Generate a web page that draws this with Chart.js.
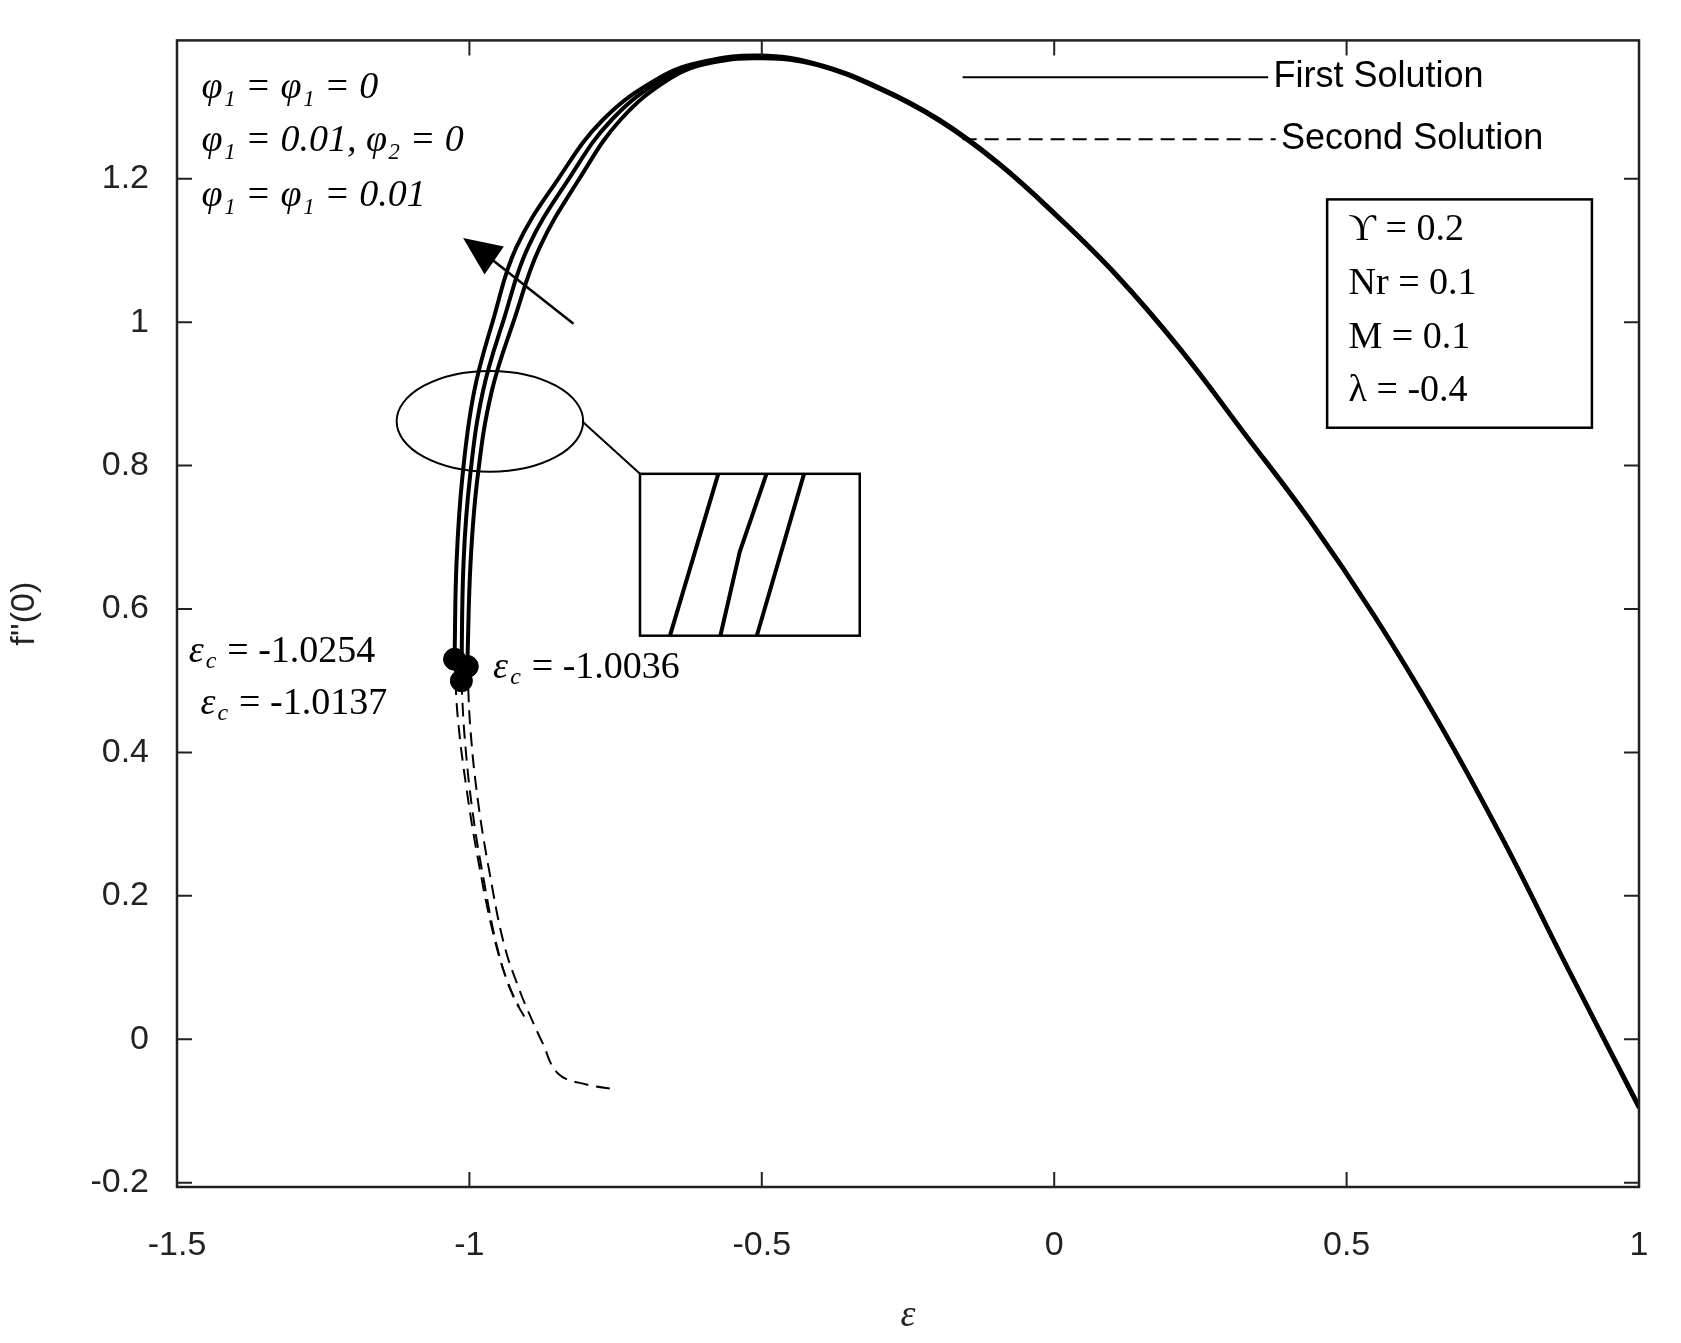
<!DOCTYPE html>
<html><head><meta charset="utf-8">
<script src="https://cdn.jsdelivr.net/npm/chart.js@4.4.1/dist/chart.umd.min.js"></script>
<style>html,body{margin:0;padding:0;background:#fff}#w{width:1681px;height:1343px}</style>
</head><body><div id="w"><canvas id="c"></canvas></div>
<script>
const xTicks=[-1.5,-1,-0.5,0,0.5,1];
const yTicks=[-0.2,0,0.2,0.4,0.6,0.8,1,1.2];
// First solution (solid), three curves
const firstA_x=[-1.0254,-1.022,-1.012,-0.992,-0.958,-0.92,-0.848,-0.772,-0.675,-0.597,-0.503,-0.409,-0.298,-0.197,-0.096,0.005,0.106,0.216,0.326,0.436,0.547,0.657,0.767,0.877,1.0];
const firstA_y=[0.53,0.665,0.784,0.903,1.007,1.104,1.2,1.282,1.341,1.364,1.372,1.361,1.327,1.283,1.223,1.149,1.067,0.963,0.845,0.726,0.592,0.444,0.28,0.102,-0.093];
const firstB_x=[-1.0137,-1.01,-0.999,-0.977,-0.94,-0.9,-0.83,-0.757,-0.665,-0.591,-0.5,-0.408,-0.298,-0.197,-0.096,0.005,0.106,0.216,0.326,0.436,0.547,0.657,0.767,0.877,1.0];
const firstB_y=[0.50,0.665,0.784,0.903,1.007,1.104,1.2,1.282,1.341,1.363,1.37,1.36,1.326,1.282,1.222,1.148,1.066,0.962,0.844,0.725,0.591,0.443,0.279,0.101,-0.095];
const firstC_x=[-1.0036,-0.998,-0.986,-0.962,-0.922,-0.88,-0.812,-0.742,-0.655,-0.585,-0.497,-0.407,-0.298,-0.197,-0.096,0.005,0.106,0.216,0.326,0.436,0.547,0.657,0.767,0.877,1.0];
const firstC_y=[0.52,0.665,0.784,0.903,1.007,1.104,1.2,1.282,1.341,1.362,1.368,1.359,1.325,1.281,1.221,1.147,1.065,0.961,0.843,0.724,0.59,0.442,0.278,0.1,-0.096];
// Second solution (dashed)
const secondA_x=[-1.0254,-1.02,-1.005,-0.985,-0.96,-0.935,-0.915];
const secondA_y=[0.53,0.45,0.35,0.25,0.15,0.08,0.045];
const secondB_x=[-1.0137,-1.008,-0.995,-0.975,-0.95,-0.925,-0.905];
const secondB_y=[0.50,0.42,0.32,0.22,0.12,0.06,0.03];
const secondC_x=[-1.0036,-0.998,-0.985,-0.965,-0.94,-0.915,-0.9,-0.875,-0.848,-0.8,-0.747];
const secondC_y=[0.52,0.43,0.33,0.23,0.13,0.07,0.04,-0.005,-0.048,-0.063,-0.07];
const critX=[-1.0254,-1.0137,-1.0036];
const critY=[0.53,0.50,0.52];

const pts=(xs,ys)=>xs.map((x,i)=>({x,y:ys[i]}));
const solid=(xs,ys)=>({data:pts(xs,ys),borderColor:'#000',borderWidth:4,pointRadius:0,showLine:true,tension:0.4,fill:false});
const dashed=(xs,ys)=>({data:pts(xs,ys),borderColor:'#000',borderWidth:2,borderDash:[14,8],pointRadius:0,showLine:true,tension:0.4,fill:false});
const K=1.072;
const deco={id:'deco',afterDraw(ch){
 const c=ch.ctx,a=ch.chartArea,xs=ch.scales.x,ys=ch.scales.y;
 c.save();c.strokeStyle='#222';c.lineWidth=2.5;
 c.strokeRect(a.left,a.top,a.right-a.left,a.bottom-a.top);
 c.lineWidth=2;
 xTicks.forEach(t=>{const p=xs.getPixelForValue(t);c.beginPath();c.moveTo(p,a.bottom);c.lineTo(p,a.bottom-15);c.moveTo(p,a.top);c.lineTo(p,a.top+15);c.stroke();});
 yTicks.forEach(t=>{const p=ys.getPixelForValue(t);c.beginPath();c.moveTo(a.left,p);c.lineTo(a.left+15,p);c.moveTo(a.right,p);c.lineTo(a.right-15,p);c.stroke();});
 c.strokeStyle='#000';c.fillStyle='#000';
 // legend
 c.lineWidth=2;c.beginPath();c.moveTo(898*K,72*K);c.lineTo(1183*K,72*K);c.stroke();
 c.setLineDash([14,8]);c.beginPath();c.moveTo(898*K,130*K);c.lineTo(1190*K,130*K);c.stroke();c.setLineDash([]);
 c.font='36px "Liberation Sans", Arial';c.textBaseline='middle';c.textAlign='left';
 c.fillText('First Solution',1188*K,72*K);c.fillText('Second Solution',1195*K,130*K);
 // param box
 c.lineWidth=2.5;c.strokeRect(1238*K,186*K,247*K,213*K);
 c.font='38px "Liberation Serif", "DejaVu Serif", serif';
 ['ϒ = 0.2','Nr = 0.1','M = 0.1','λ = -0.4'].forEach((s,i)=>c.fillText(s,1258*K,(215+50*i)*K));
 // phi labels
 c.font='italic 38px "Liberation Serif", serif';
 c.fillText('φ₁ = φ₁ = 0',188*K,82*K);
 c.fillText('φ₁ = 0.01, φ₂ = 0',188*K,132*K);
 c.fillText('φ₁ = φ₁ = 0.01',188*K,183*K);
 // arrow
 c.lineWidth=2.5;c.beginPath();c.moveTo(535*K,302*K);c.lineTo(450*K,235*K);c.stroke();
 c.beginPath();c.moveTo(432*K,222*K);c.lineTo(470*K,230*K);c.lineTo(452*K,256*K);c.closePath();c.fill();
 // ellipse & inset
 c.lineWidth=2;c.beginPath();c.ellipse(457*K,393*K,87*K,47*K,0,0,Math.PI*2);c.stroke();
 c.beginPath();c.moveTo(543*K,393*K);c.lineTo(597*K,442*K);c.stroke();
 c.lineWidth=2.5;c.strokeRect(597*K,442*K,205*K,151*K);
 c.lineWidth=4;c.beginPath();
 c.moveTo(625*K,593*K);c.lineTo(670*K,442*K);
 c.moveTo(672*K,593*K);c.lineTo(690*K,515*K);c.lineTo(715*K,442*K);
 c.moveTo(706*K,593*K);c.lineTo(750*K,442*K);c.stroke();
 // epsilon labels
 c.font='italic 38px "Liberation Serif", serif';
 c.fillText('ε',176*K,608*K);c.fillText('ε',460*K,623*K);c.fillText('ε',187*K,657*K);
 c.font='italic 24px "Liberation Serif", serif';
 c.fillText('c',192*K,617*K);c.fillText('c',476*K,632*K);c.fillText('c',203*K,666*K);
 c.font='38px "Liberation Serif", serif';
 c.fillText('= -1.0254',212*K,608*K);c.fillText('= -1.0036',496*K,623*K);c.fillText('= -1.0137',223*K,657*K);
 c.restore();}};
new Chart(document.getElementById('c'),{type:'scatter',
 data:{datasets:[solid(firstA_x,firstA_y),solid(firstB_x,firstB_y),solid(firstC_x,firstC_y),
  dashed(secondA_x,secondA_y),dashed(secondB_x,secondB_y),dashed(secondC_x,secondC_y),
  {data:pts(critX,critY),pointRadius:11,pointBackgroundColor:'#000',pointBorderColor:'#000',showLine:false}]},
 options:{responsive:true,maintainAspectRatio:false,animation:false,
  layout:{padding:{top:32,right:42,left:0,bottom:0}},
  plugins:{legend:{display:false},tooltip:{enabled:false}},
  scales:{
   x:{type:'linear',min:-1.5,max:1,afterBuildTicks:s=>{s.ticks=xTicks.map(v=>({value:v}));},
    afterFit:s=>{s.height=156;},grid:{display:false},border:{display:false},
    ticks:{color:'#222',padding:30,font:{size:34,family:'"Liberation Sans", Arial'},callback:v=>String(v)},
    title:{display:true,text:'ε',color:'#222',font:{size:38,style:'italic',family:'"Liberation Serif", serif'},padding:{top:0}}},
   y:{type:'linear',min:-0.206,max:1.393,afterBuildTicks:s=>{s.ticks=yTicks.map(v=>({value:v}));},
    afterFit:s=>{s.width=177;},grid:{display:false},border:{display:false},
    ticks:{color:'#222',padding:20,font:{size:34,family:'"Liberation Sans", Arial'},callback:v=>String(Math.round(v*10)/10)},
    title:{display:true,text:"f''(0)",color:'#222',font:{size:34,family:'"Liberation Sans", Arial'}}}}},
 plugins:[deco]});
</script></body></html>
